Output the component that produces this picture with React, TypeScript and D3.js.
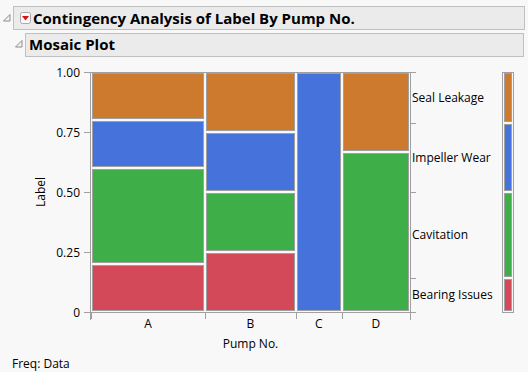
import { useEffect, useRef } from "react";
import * as d3 from "d3";

// mosaic data: counts per pump (rows) for each label (columns)
const pumps = ["A", "B", "C", "D"];
const labels = ["Bearing Issues", "Cavitation", "Impeller Wear", "Seal Leakage"];
const colors = ["#D4495A", "#3DAE48", "#4572DB", "#CD7A2E"];
const counts = [
  [1, 2, 1, 1],
  [1, 1, 1, 1],
  [0, 0, 2, 0],
  [0, 2, 0, 1],
];
const yTicks = [0, 0.25, 0.5, 0.75, 1];
const yTickLabels = ["0", "0.25", "0.50", "0.75", "1.00"];

const FONT = "'Segoe UI', 'Open Sans', 'Noto Sans', sans-serif";
const AXIS = "#a0a0a0";

export default function App() {
  const svgRef = useRef<SVGSVGElement | null>(null);

  useEffect(() => {
    if (!svgRef.current) return;
    document.body.style.margin = "0";
    const svg = d3.select(svgRef.current);
    svg.selectAll("*").remove();

    const width = 528;
    const height = 372;

    svg.append("rect").attr("width", width).attr("height", height).attr("fill", "#f8f8f8");

    // outline headers
    const panels = [
      { x: 13.5, y: 6.5, w: 511, h: 23, text: "Contingency Analysis of Label By Pump No.", tx: 33, ty: 24, size: 15 },
      { x: 25.5, y: 33.5, w: 498, h: 23, text: "Mosaic Plot", tx: 29, ty: 50, size: 15 },
    ];
    panels.forEach((p) => {
      svg.append("rect").attr("x", p.x).attr("y", p.y).attr("width", p.w).attr("height", p.h)
        .attr("fill", "#ebebeb").attr("stroke", "#c0c0c0");
      svg.append("text").attr("x", p.tx).attr("y", p.ty).text(p.text)
        .attr("font-family", FONT).attr("font-weight", "bold").attr("font-size", p.size).attr("fill", "#000");
    });
    // disclosure triangles
    [[3.5, 21, 10, 14.5], [15.5, 47, 22, 40.5]].forEach(([x0, y0, x1, y1]) => {
      svg.append("path").attr("d", `M${x0},${y0}L${x1},${y0}L${x1},${y1}Z`)
        .attr("fill", "#f4f4f4").attr("stroke", "#8c8c8c").attr("stroke-width", 1);
    });
    // red menu button
    svg.append("rect").attr("x", 20.5).attr("y", 12.5).attr("width", 10).attr("height", 11).attr("rx", 2)
      .attr("fill", "#fafafa").attr("stroke", "#a8a8a8");
    svg.append("path").attr("d", "M22,16L29,16L25.5,20.5Z").attr("fill", "#d0141c");

    // scales
    const pumpTotals = counts.map((r) => d3.sum(r));
    const total = d3.sum(pumpTotals);
    const pumpCum = [0, ...d3.cumsum(pumpTotals)];
    const x = d3.scaleLinear().domain([0, total]).range([91, 410]);
    const y = d3.scaleLinear().domain([0, 1]).range([312, 72]);

    const g = svg.append("g");

    // cells
    counts.forEach((row, i) => {
      const a = Math.round(x(pumpCum[i]));
      const b = Math.round(x(pumpCum[i + 1]));
      const rc = [0, ...d3.cumsum(row)];
      row.forEach((c, j) => {
        if (c === 0) return;
        const top = Math.round(y(rc[j + 1] / pumpTotals[i]));
        const bot = Math.round(y(rc[j] / pumpTotals[i]));
        g.append("rect")
          .attr("x", a + 1.5).attr("width", b - a - 3)
          .attr("y", top + 1.5).attr("height", bot - top - 3)
          .attr("fill", colors[j]).attr("stroke", AXIS).attr("stroke-width", 1);
      });
    });

    // frame and axes
    g.append("line").attr("x1", 90).attr("x2", 411).attr("y1", 72.5).attr("y2", 72.5).attr("stroke", AXIS);
    g.append("line").attr("x1", 90.5).attr("x2", 90.5).attr("y1", 72).attr("y2", 320).attr("stroke", AXIS);
    g.append("line").attr("x1", 84).attr("x2", 411).attr("y1", 312.5).attr("y2", 312.5).attr("stroke", AXIS);
    g.append("line").attr("x1", 410.5).attr("x2", 410.5).attr("y1", 72).attr("y2", 320).attr("stroke", AXIS);

    // y axis ticks
    yTicks.forEach((t, k) => {
      const yy = Math.round(y(t)) + 0.5;
      g.append("line").attr("x1", 84).attr("x2", 90).attr("y1", yy).attr("y2", yy).attr("stroke", AXIS);
      g.append("text").attr("x", 80).attr("y", yy + 4.5).attr("text-anchor", "end").text(yTickLabels[k])
        .attr("font-family", FONT).attr("font-size", 12).attr("fill", "#000");
    });
    g.append("text").attr("transform", `translate(45,192) rotate(-90)`).attr("text-anchor", "middle")
      .text("Label").attr("font-family", FONT).attr("font-size", 12).attr("fill", "#000");

    // x axis ticks & labels
    pumpCum.forEach((c) => {
      const xx = Math.round(x(c)) + 0.5;
      g.append("line").attr("x1", xx).attr("x2", xx).attr("y1", 312).attr("y2", 319).attr("stroke", AXIS);
    });
    pumps.forEach((p, i) => {
      g.append("text").attr("x", (x(pumpCum[i]) + x(pumpCum[i + 1])) / 2).attr("y", 328)
        .attr("text-anchor", "middle").text(p).attr("font-family", FONT).attr("font-size", 12).attr("fill", "#000");
    });
    g.append("text").attr("x", 250.5).attr("y", 348).attr("text-anchor", "middle").text("Pump No.")
      .attr("font-family", FONT).attr("font-size", 12).attr("fill", "#000");

    // right axis with marginal proportions
    const labelTotals = labels.map((_, j) => d3.sum(counts, (r) => r[j]));
    const labelCum = [0, ...d3.cumsum(labelTotals)];
    labelCum.forEach((c) => {
      const yy = Math.round(y(c / total)) + 0.5;
      g.append("line").attr("x1", 410).attr("x2", 416).attr("y1", yy).attr("y2", yy).attr("stroke", AXIS);
    });
    labels.forEach((l, j) => {
      const ym = (y(labelCum[j] / total) + y(labelCum[j + 1] / total)) / 2;
      g.append("text").attr("x", 412).attr("y", ym + 4.5).text(l)
        .attr("font-family", FONT).attr("font-size", 12).attr("fill", "#000");
    });

    // marginal bar
    g.append("rect").attr("x", 502.5).attr("y", 72.5).attr("width", 11).attr("height", 240)
      .attr("fill", "none").attr("stroke", AXIS);
    labels.forEach((_, j) => {
      const top = Math.round(y(labelCum[j + 1] / total));
      const bot = Math.round(y(labelCum[j] / total));
      g.append("rect").attr("x", 504.5).attr("width", 7)
        .attr("y", top + 1.5).attr("height", bot - top - 3)
        .attr("fill", colors[j]).attr("stroke", AXIS);
    });

    svg.append("text").attr("x", 12).attr("y", 368).text("Freq: Data")
      .attr("font-family", FONT).attr("font-size", 12).attr("fill", "#000");
  }, []);

  return <svg ref={svgRef} width={528} height={372} style={{ display: "block", position: "absolute", left: 0, top: 0 }} />;
}
